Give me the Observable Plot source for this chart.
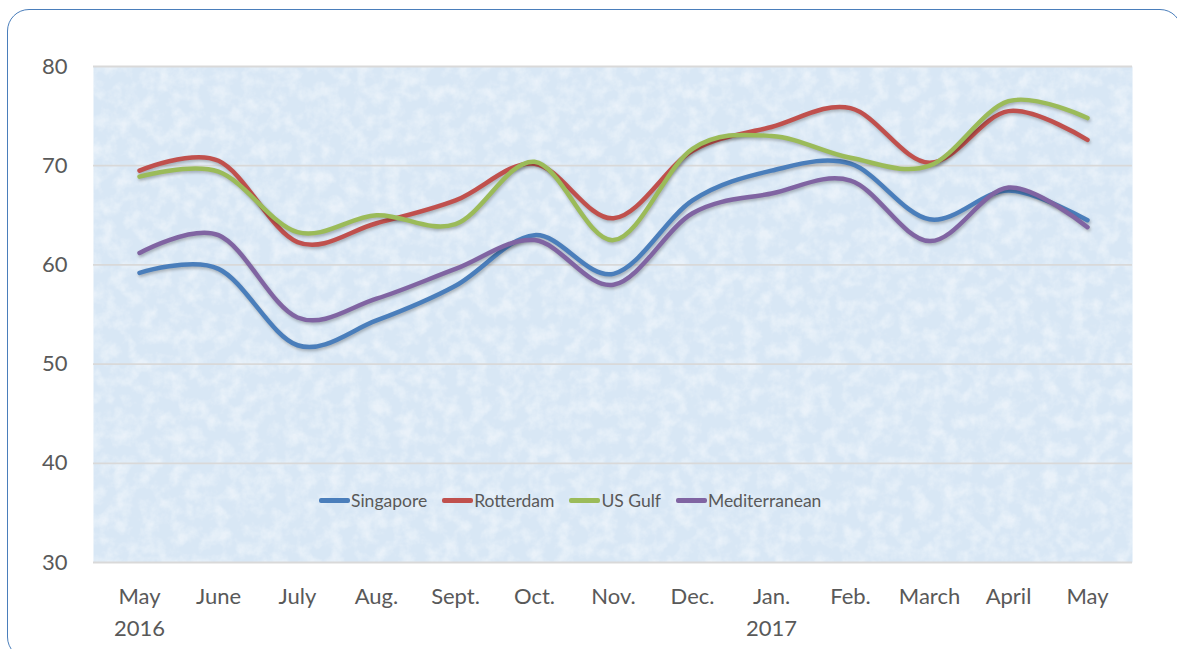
<!DOCTYPE html>
<html>
<head>
<meta charset="utf-8">
<script src="https://cdn.jsdelivr.net/npm/d3@7"></script>
<script src="https://cdn.jsdelivr.net/npm/@observablehq/plot@0.6"></script>
<style>
  html, body { margin: 0; padding: 0; background: #fff; }
  #wrap { position: relative; width: 1177px; height: 649px; overflow: hidden; font-family: Lato, "Open Sans", sans-serif; }
  #border { position: absolute; left: 7px; top: 9px; width: 1175px; height: 650px; border: 1.5px solid #4a7ebb; border-radius: 22px; box-sizing: border-box; pointer-events: none; }
  #legend { position: absolute; left: 319px; top: 490px; display: flex; gap: 15px; font-size: 17.5px; color: #595959; }
  .item { display: flex; align-items: center; }
  .sw { display: inline-block; width: 31px; height: 4.5px; border-radius: 2px; margin-right: 1px; }
  svg g[aria-label="line"] path { filter: drop-shadow(1px 2px 1.5px rgba(0,0,0,0.25)); }
</style>
</head>
<body>
<div id="wrap"><div id="chart"></div><div id="legend"></div><div id="border"></div></div>
<script>
const months = ["May\n2016","June","July","Aug.","Sept.","Oct.","Nov.","Dec.","Jan.\n2017","Feb.","March","April","May"];
const seriesNames = ["Singapore","Rotterdam","US Gulf","Mediterranean"];
const colors = ["#4a7ebb","#c0504d","#9bbb59","#8064a2"];
const singapore     = [59.2, 59.6, 51.9, 54.4, 57.9, 63.0, 59.1, 66.5, 69.5, 70.2, 64.6, 67.5, 64.5];
const rotterdam     = [69.5, 70.5, 62.3, 64.2, 66.5, 70.2, 64.7, 71.5, 73.9, 75.8, 70.3, 75.5, 72.6];
const usGulf        = [68.9, 69.4, 63.3, 65.0, 64.1, 70.4, 62.5, 71.7, 73.0, 70.8, 70.0, 76.5, 74.8];
const mediterranean = [61.2, 63.0, 54.7, 56.6, 59.6, 62.5, 58.0, 65.2, 67.2, 68.5, 62.4, 67.8, 63.8];
const yTicks = [30, 40, 50, 60, 70, 80];

const values = [singapore, rotterdam, usGulf, mediterranean];
const data = [];
seriesNames.forEach((s, i) => months.forEach((m, j) => data.push({series: s, month: m, value: values[i][j]})));

const chart = Plot.plot({
  width: 1177,
  height: 649,
  marginLeft: 93,
  marginRight: 45,
  marginTop: 66,
  marginBottom: 87,
  style: {fontFamily: "Lato, 'Open Sans', sans-serif", fontSize: "22px", color: "#595959", background: "transparent"},
  x: {type: "point", domain: months, padding: 0.5, label: null},
  y: {domain: [30, 80], ticks: yTicks, label: null},
  color: {domain: seriesNames, range: colors},
  marks: [
    Plot.frame({fill: "#d8e7f5", stroke: null}),
    Plot.frame({fill: "#ffffff", stroke: null}),
    Plot.ruleY(yTicks, {stroke: "#d9d9d9", strokeWidth: 1.8}),
    Plot.axisY({ticks: yTicks, tickSize: 0, tickPadding: 26, label: null, fill: "#595959"}),
    Plot.axisX({tickSize: 0, tickPadding: 19, label: null, lineHeight: 1.45, fill: "#595959"}),
    Plot.line(data, {x: "month", y: "value", z: "series", stroke: "series", strokeWidth: 4.5, curve: "cardinal", strokeLinecap: "round"})
  ]
});

// subtle texture over the plot background
const ns = "http://www.w3.org/2000/svg";
const defs = document.createElementNS(ns, "defs");
defs.innerHTML = `
  <filter id="tex" x="0" y="0" width="100%" height="100%">
    <feTurbulence type="fractalNoise" baseFrequency="0.07" numOctaves="4" seed="7" result="n"/>
    <feColorMatrix in="n" type="matrix" values="0 0 0 0 1  0 0 0 0 1  0 0 0 0 1  0 0 0 -2.2 1.35" result="w"/>
    <feComposite in="w" in2="SourceGraphic" operator="in"/>
  </filter>`;
chart.insertBefore(defs, chart.firstChild);
const frames = chart.querySelectorAll('[aria-label="frame"]');
if (frames.length > 1) {
  frames[1].setAttribute("filter", "url(#tex)");
  frames[1].setAttribute("opacity", "0.45");
}
document.getElementById("chart").appendChild(chart);

const legend = document.getElementById("legend");
seriesNames.forEach((s, i) => {
  const it = document.createElement("div");
  it.className = "item";
  it.innerHTML = `<span class="sw" style="background:${colors[i]}"></span><span>${s}</span>`;
  legend.appendChild(it);
});
</script>
</body>
</html>
